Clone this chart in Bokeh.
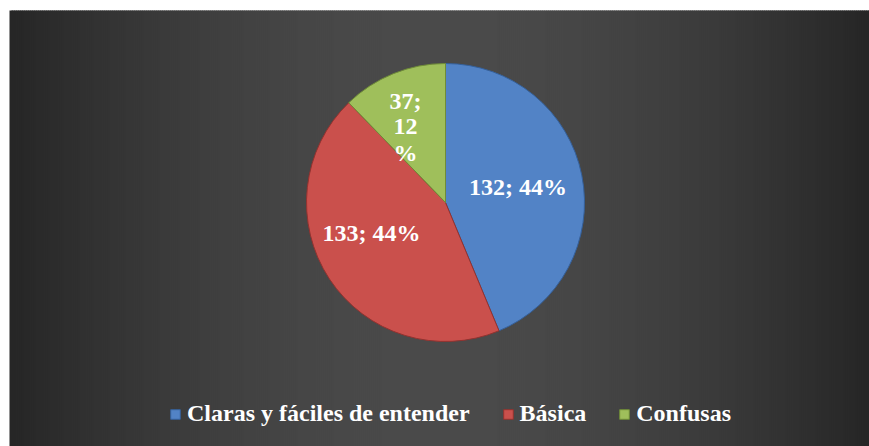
import numpy as np
from bokeh.plotting import figure
from bokeh.models import ColumnDataSource, Range1d, Legend, LegendItem
from bokeh.core.properties import value
from bokeh.embed import file_html
from bokeh.resources import INLINE

# ---- data ----
categories = ["Claras y fáciles de entender", "Básica", "Confusas"]
counts = [132, 133, 37]
percents = [44, 44, 12]
slice_colors = ["#5283c6", "#ca504c", "#9fbf5b"]
edge_colors = ["#35609a", "#93322f", "#6f8c38"]

# ---- layout ----
W, H = 869, 446
BG_L, BG_T = 9, 10          # background panel offset (px)
CX, CY, R = 445, 244, 139
FONT = "Liberation Serif"

p = figure(width=W, height=H, output_backend="svg", toolbar_location=None,
           x_range=Range1d(0, W), y_range=Range1d(0, H), min_border=0,
           background_fill_color="white", border_fill_color="white")
p.axis.visible = False
p.grid.visible = False
p.outline_line_color = None

# background: horizontal gradient, lighter in the middle
step = 2.0
xs = np.arange(BG_L, W, step)
mid = (BG_L + W) / 2
half = (W - BG_L) / 2
t = np.abs((xs + step / 2 - mid) / half)
lv = 75 - 37 * np.clip(t, 0, 1) ** 1.8
cols = ["#%02x%02x%02x" % (int(v), int(v), int(v)) for v in lv]
p.quad(left=xs, right=np.minimum(xs + step + 1.5, W), bottom=0, top=H - BG_T,
       fill_color=cols, line_color=None)

# pie wedges
vals = np.array(counts, dtype=float)
ang = vals / vals.sum() * 2 * np.pi
ends = np.pi / 2 - np.concatenate([[0], np.cumsum(ang)[:-1]])
starts = ends - ang
src = ColumnDataSource(dict(start=starts, end=ends, color=slice_colors, edge=edge_colors,
                            label=categories))
wr = p.wedge(x=CX, y=CY, radius=R, start_angle="start", end_angle="end",
             fill_color="color", line_color="edge", line_width=1, source=src)

# data labels
lab_txt = ["%d; %d%%" % (c, q) for c, q in zip(counts, percents)]
lab_off = [(72.5, 16), (-74, -30)]
lx = [CX + o[0] for o in lab_off]
ly = [CY + o[1] for o in lab_off]
p.text(x=lx, y=ly, text=lab_txt[:2], text_color="white", text_font=value(FONT),
       text_font_style="bold", text_font_size="24px", text_align="center",
       text_baseline="middle")
g_lines = ["%d;" % counts[2], "%d" % percents[2], "%"]
gx = [CX - 40] * 3
gy = [CY + 102, CY + 76, CY + 50]
p.text(x=gx, y=gy, text=g_lines, text_color="white", text_font=value(FONT),
       text_font_style="bold", text_font_size="24px", text_align="center",
       text_baseline="middle")

# legend
items = [LegendItem(label=c, renderers=[wr], index=i) for i, c in enumerate(categories)]
leg = Legend(items=items, orientation="horizontal", location=(169, 19),
             glyph_width=12, glyph_height=12, label_standoff=6, spacing=32,
             padding=0, margin=0, background_fill_alpha=0, border_line_color=None,
             label_text_color="white", label_text_font=FONT,
             label_text_font_style="bold", label_text_font_size="24px")
p.add_layout(leg, "center")

open("out.html", "w").write(file_html(p, INLINE))
